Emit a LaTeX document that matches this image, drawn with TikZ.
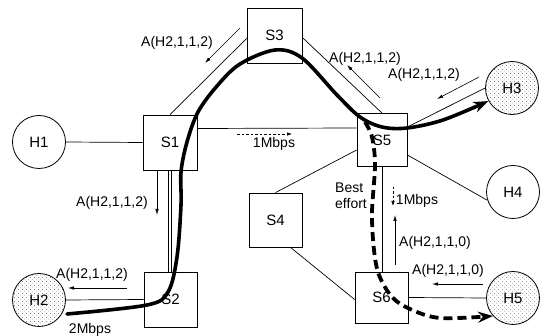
\documentclass[tikz,border=0pt]{standalone}
\usepackage{fontspec}
\setmainfont{Liberation Sans}
\usetikzlibrary{arrows.meta,patterns.meta}

\tikzdeclarepattern{
  name=hostdots,
  type=uncolored,
  bounding box={(0pt,0pt) and (4pt,4pt)},
  tile size={(4pt,4pt)},
  code={\fill (1pt,1pt) circle (0.45pt); \fill (3pt,3pt) circle (0.45pt);}
}

\tikzset{
  sw/.style={draw, line width=0.8pt, inner sep=0pt, font=\fontsize{15}{15}\selectfont},
  host/.style={circle, draw, line width=0.8pt, minimum size=53pt, inner sep=0pt, font=\fontsize{15}{15}\selectfont},
  hostd/.style={host, pattern=hostdots, pattern color=black!75},
  link/.style={line width=0.7pt},
  msg/.style={line width=0.6pt, -{Latex[length=6pt,width=3.5pt]}},
  rate/.style={line width=0.6pt, dash pattern=on 2.5pt off 2pt, -{Latex[length=5pt,width=3.5pt]}},
  lbl/.style={font=\fontsize{14}{14}\selectfont, inner sep=0pt},
  route/.style={line width=3.6pt, line cap=round, -{Stealth[length=15pt,width=11pt]}},
  beff/.style={line width=3.8pt, dash pattern=on 9pt off 5pt, -{Stealth[length=15pt,width=11pt]}}
}

\begin{document}
\begin{tikzpicture}[x=1pt,y=-1pt]
\useasboundingbox (0,0) rectangle (547,336);

% switches
\node[sw, minimum width=55pt, minimum height=55pt] (S3) at (274.5,35.5) {S3};
\node[sw, minimum width=54pt, minimum height=55pt] (S1) at (170,142.5) {S1};
\node[sw, minimum width=50pt, minimum height=53pt] (S5) at (382,140) {S5};
\node[sw, minimum width=53pt, minimum height=54pt] (S4) at (275.5,220) {S4};
\node[sw, minimum width=53pt, minimum height=55pt] (S2) at (170.5,299.5) {S2};
\node[sw, minimum width=53pt, minimum height=51pt] (S6) at (381.5,297.5) {S6};

% hosts
\node[host] (H1) at (39,142) {H1};
\node[hostd] (H2) at (39,300) {H2};
\node[hostd] (H3) at (512,88) {H3};
\node[host] (H4) at (513,192) {H4};
\node[hostd] (H5) at (513,298) {H5};

% links
\draw[link] (H1.east) -- (S1.west);
\draw[link] (S1.north) -- ([yshift=-3pt]S3.west);
\draw[link] ([yshift=-2pt]S3.east) -- (S5.north);
\draw[link] ([yshift=14pt]S1.east) -- ([yshift=12pt]S5.west);
\draw[link] ([yshift=13pt]S5.east) -- (H3.west);
\draw[link] ([yshift=-15pt]S5.east) -- (H4.198);
\draw[link] ([yshift=-10pt]S5.west) -- (S4.north);
\draw[link] ([xshift=15pt]S4.south) -- ([yshift=-2pt]S6.west);
\draw[link] (S5.south) -- (S5.south |- S6.north);
\draw[link] (S6.east) -- (H5.west);
\draw[link] ([xshift=-1.5pt]S1.south) -- ([xshift=-1.5pt]S1.south |- S2.north);
\draw[link] ([xshift=1.5pt]S1.south) -- ([xshift=1.5pt]S1.south |- S2.north);
\draw[link] (H2.east) -- (S2.west);

% reservation route (thick)
\coordinate (r0) at (67,314);
\draw[route] plot[smooth, tension=0.55] coordinates {
  (r0) (147,305) (168,292) (177,257) (181,205) (181,172) (187,142) (198,112)
  (217,86) (240,64) (275,50) (302,58) (337,95) (360,117) (382,127)
  (407,128) (443,120) (H3.209)};

% best effort (thick dashed)
\draw[beff] plot[smooth, tension=0.55] coordinates {
  (365,122) (372,137) (375,165) (372,213) (374,250) (379,275) (392,297)
  (410,309) (440,318) (H5.222)};

% messages
\node[lbl] (m1) at (177,43) {A(H2,1,1,2)};
\coordinate (m1a) at (240,28); \coordinate (m1b) at (205,63);
\draw[msg] (m1a) -- (m1b);

\node[lbl] (m2) at (365,59) {A(H2,1,1,2)};
\coordinate (m2a) at (380,98); \coordinate (m2b) at (347,65);
\draw[msg] (m2a) -- (m2b);

\node[lbl] (m3) at (424,75) {A(H2,1,1,2)};
\coordinate (m3a) at (479,77); \coordinate (m3b) at (437,99);
\draw[msg] (m3a) -- (m3b);

\node[lbl] (m4) at (112,203) {A(H2,1,1,2)};
\coordinate (m4a) at (157,171); \coordinate (m4b) at (157,215);
\draw[msg] (m4a) -- (m4b);

\node[lbl] (m5) at (92,275) {A(H2,1,1,2)};
\coordinate (m5a) at (127,288); \coordinate (m5b) at (68,288);
\draw[msg] (m5a) -- (m5b);

\node[lbl] (m6) at (435,243) {A(H2,1,1,0)};
\coordinate (m6a) at (395,265); \coordinate (m6b) at (395,215);
\draw[msg] (m6a) -- (m6b);

\node[lbl] (m7) at (448,271) {A(H2,1,1,0)};
\coordinate (m7a) at (483,284); \coordinate (m7b) at (432,284);
\draw[msg] (m7a) -- (m7b);

% rates
\node[lbl] (b1) at (274,144) {1Mbps};
\coordinate (b1a) at (237,134); \coordinate (b1b) at (292,134);
\draw[rate] (b1a) -- (b1b);

\node[lbl] (b2) at (417,201) {1Mbps};
\coordinate (b2a) at (393,187); \coordinate (b2b) at (393,206);
\draw[rate] (b2a) -- (b2b);

\node[lbl] (b3) at (90,330) {2Mbps};

\node[lbl, align=left, anchor=west] (be) at (335,196) {Best\\[2pt]effort};
\end{tikzpicture}
\end{document}
